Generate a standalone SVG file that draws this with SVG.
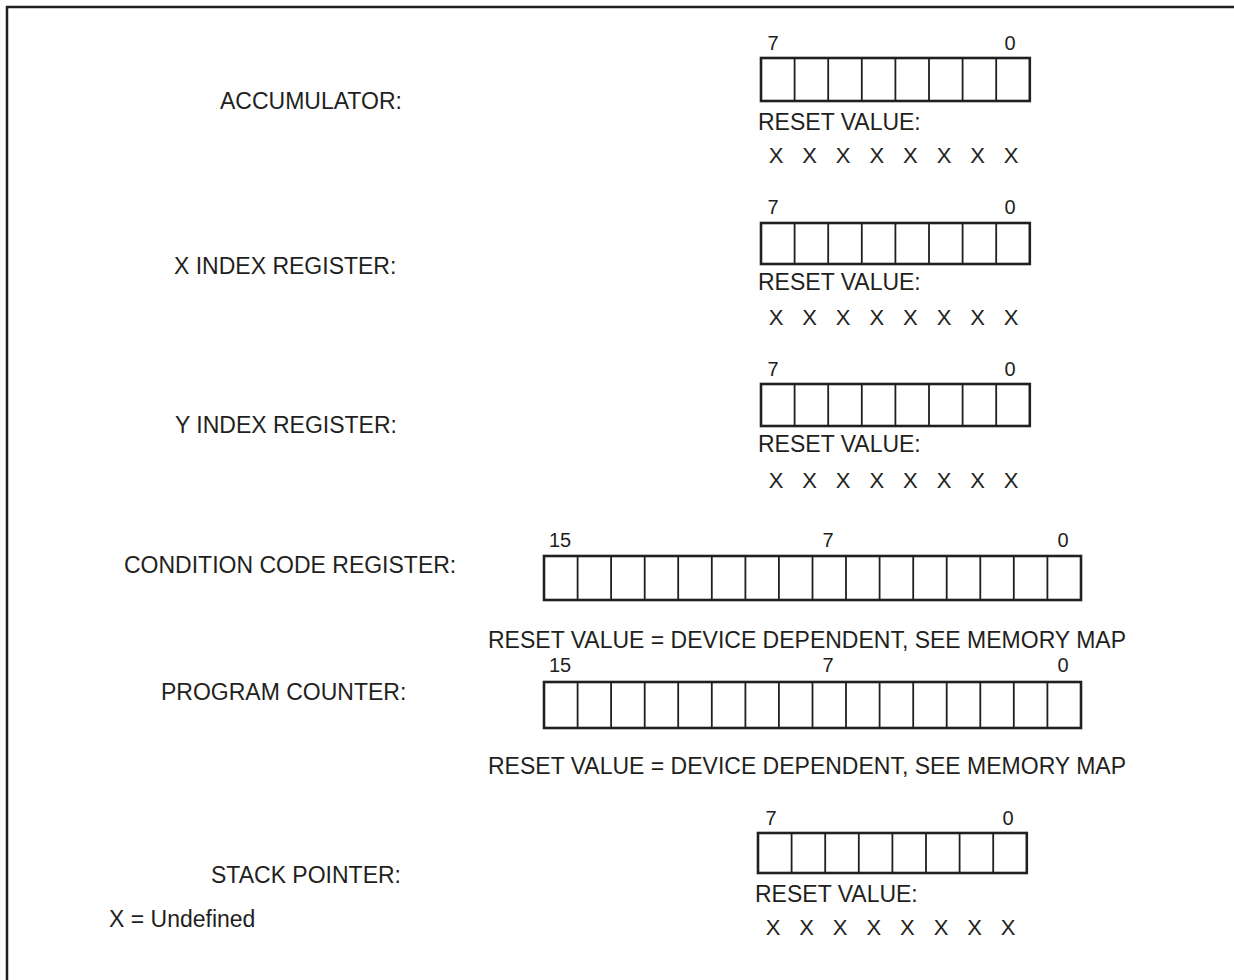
<svg xmlns="http://www.w3.org/2000/svg" width="1234" height="980" viewBox="0 0 1234 980">
<style>
text{font-family:"Liberation Sans",Arial,sans-serif;fill:#231f20}
.lbl{font-size:23px}
.num{font-size:20px}
.x{font-size:22px;text-anchor:middle}
.mid{text-anchor:middle}
.box{fill:none;stroke:#231f20;stroke-width:2.6}
.div{stroke:#231f20;stroke-width:1.8}
</style>
<rect width="1234" height="980" fill="#fff"/>
<path d="M7 980V7H1234" fill="none" stroke="#231f20" stroke-width="2.5"/>

<g id="accumulator">
<text class="lbl" x="220" y="109">ACCUMULATOR:</text>
<text class="num mid" x="773" y="50">7</text>
<text class="num mid" x="1010" y="50">0</text>
<rect class="box" x="761" y="58" width="268.8" height="43"/>
<path class="div" d="M794.6 58V101M828.2 58V101M861.8 58V101M895.4 58V101M929 58V101M962.6 58V101M996.2 58V101"/>
<text class="lbl" x="758" y="130">RESET VALUE:</text>
<text class="x" x="776" y="163">X</text><text class="x" x="809.6" y="163">X</text><text class="x" x="843.2" y="163">X</text><text class="x" x="876.8" y="163">X</text><text class="x" x="910.4" y="163">X</text><text class="x" x="944" y="163">X</text><text class="x" x="977.6" y="163">X</text><text class="x" x="1011.2" y="163">X</text>
</g>

<g id="x-index">
<text class="lbl" x="174" y="274">X INDEX REGISTER:</text>
<text class="num mid" x="773" y="214">7</text>
<text class="num mid" x="1010" y="214">0</text>
<rect class="box" x="761" y="223" width="268.8" height="41"/>
<path class="div" d="M794.6 223V264M828.2 223V264M861.8 223V264M895.4 223V264M929 223V264M962.6 223V264M996.2 223V264"/>
<text class="lbl" x="758" y="290">RESET VALUE:</text>
<text class="x" x="776" y="325">X</text><text class="x" x="809.6" y="325">X</text><text class="x" x="843.2" y="325">X</text><text class="x" x="876.8" y="325">X</text><text class="x" x="910.4" y="325">X</text><text class="x" x="944" y="325">X</text><text class="x" x="977.6" y="325">X</text><text class="x" x="1011.2" y="325">X</text>
</g>

<g id="y-index">
<text class="lbl" x="175" y="433">Y INDEX REGISTER:</text>
<text class="num mid" x="773" y="376">7</text>
<text class="num mid" x="1010" y="376">0</text>
<rect class="box" x="761" y="384" width="268.8" height="42"/>
<path class="div" d="M794.6 384V426M828.2 384V426M861.8 384V426M895.4 384V426M929 384V426M962.6 384V426M996.2 384V426"/>
<text class="lbl" x="758" y="452">RESET VALUE:</text>
<text class="x" x="776" y="488">X</text><text class="x" x="809.6" y="488">X</text><text class="x" x="843.2" y="488">X</text><text class="x" x="876.8" y="488">X</text><text class="x" x="910.4" y="488">X</text><text class="x" x="944" y="488">X</text><text class="x" x="977.6" y="488">X</text><text class="x" x="1011.2" y="488">X</text>
</g>

<g id="ccr">
<text class="lbl" x="124" y="573">CONDITION CODE REGISTER:</text>
<text class="num mid" x="560" y="547">15</text>
<text class="num mid" x="828" y="547">7</text>
<text class="num mid" x="1063" y="547">0</text>
<rect class="box" x="544" y="556" width="537" height="44"/>
<path class="div" d="M577.6 556V600M611.1 556V600M644.7 556V600M678.2 556V600M711.8 556V600M745.4 556V600M778.9 556V600M812.5 556V600M846 556V600M879.6 556V600M913.2 556V600M946.7 556V600M980.3 556V600M1013.8 556V600M1047.4 556V600"/>
<text class="lbl" x="488" y="648">RESET VALUE = DEVICE DEPENDENT, SEE MEMORY MAP</text>
</g>

<g id="pc">
<text class="lbl" x="161" y="700">PROGRAM COUNTER:</text>
<text class="num mid" x="560" y="672">15</text>
<text class="num mid" x="828" y="672">7</text>
<text class="num mid" x="1063" y="672">0</text>
<rect class="box" x="544" y="682" width="537" height="46"/>
<path class="div" d="M577.6 682V728M611.1 682V728M644.7 682V728M678.2 682V728M711.8 682V728M745.4 682V728M778.9 682V728M812.5 682V728M846 682V728M879.6 682V728M913.2 682V728M946.7 682V728M980.3 682V728M1013.8 682V728M1047.4 682V728"/>
<text class="lbl" x="488" y="774">RESET VALUE = DEVICE DEPENDENT, SEE MEMORY MAP</text>
</g>

<g id="stack-pointer">
<text class="lbl" x="211" y="883">STACK POINTER:</text>
<text class="num mid" x="771" y="825">7</text>
<text class="num mid" x="1008" y="825">0</text>
<rect class="box" x="758" y="833" width="268.8" height="40"/>
<path class="div" d="M791.6 833V873M825.2 833V873M858.8 833V873M892.4 833V873M926 833V873M959.6 833V873M993.2 833V873"/>
<text class="lbl" x="755" y="902">RESET VALUE:</text>
<text class="x" x="773" y="935">X</text><text class="x" x="806.6" y="935">X</text><text class="x" x="840.2" y="935">X</text><text class="x" x="873.8" y="935">X</text><text class="x" x="907.4" y="935">X</text><text class="x" x="941" y="935">X</text><text class="x" x="974.6" y="935">X</text><text class="x" x="1008.2" y="935">X</text>
</g>

<g id="legend">
<text class="lbl" x="109" y="927">X = Undefined</text>
</g>
</svg>
